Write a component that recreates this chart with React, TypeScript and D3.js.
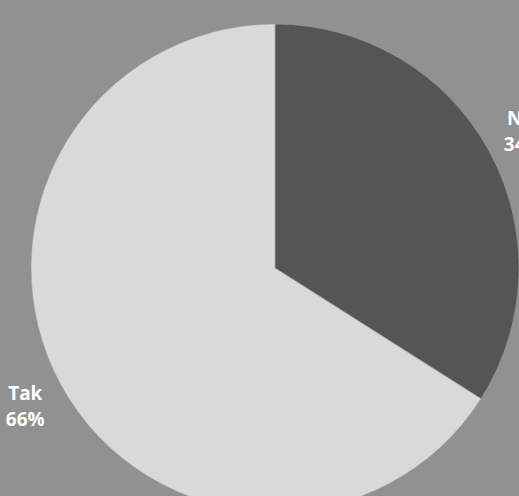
import React from "react";
import * as d3 from "d3";

const categories = ["Nie", "Tak"];
const values = [34, 66];
const colors = ["#555555", "#d9d9d9"];

export default function App() {
  const W = 519, H = 496;
  const cx = 275, cy = 268, r = 244;
  const pie = d3.pie<number>().sort(null).value((d) => d);
  const arcs = pie(values);
  const arcGen = d3.arc<d3.PieArcDatum<number>>().innerRadius(0).outerRadius(r);
  const labelArc = d3.arc<d3.PieArcDatum<number>>().innerRadius(285).outerRadius(285);
  return (
    <svg width={W} height={H} style={{ position: "fixed", left: 0, top: 0, background: "#919191" }}>
      <rect width={W} height={H} fill="#919191" />
      <g transform={`translate(${cx},${cy})`}>
        {arcs.map((a, i) => (
          <path key={i} d={arcGen(a) || ""} fill={colors[i]} stroke="#9a9a9a" strokeWidth={0.6} />
        ))}
        {arcs.map((a, i) => {
          const [x, y] = labelArc.centroid(a);
          return (
            <text key={"l" + i} x={x} y={y} textAnchor="middle" fill="#ffffff"
              fontFamily="'Open Sans', sans-serif" fontWeight={700} fontSize={19}>
              <tspan x={i === 0 ? x - 1.5 : x} dy="-0.3em">{categories[i]}</tspan>
              <tspan x={i === 0 ? x - 1.5 : x} dy="1.38em">{values[i]}%</tspan>
            </text>
          );
        })}
      </g>
    </svg>
  );
}
